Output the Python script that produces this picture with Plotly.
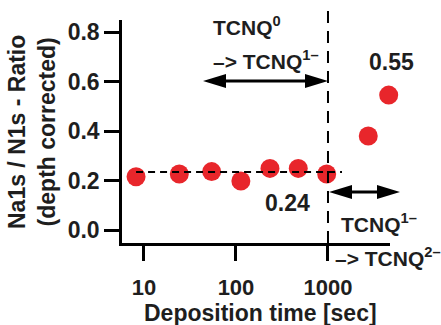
import plotly.graph_objects as go

# Data
dep_time = [8.2, 24.2, 54.4, 113, 234, 475, 968, 2740, 4570]
ratio = [0.215, 0.226, 0.236, 0.198, 0.249, 0.249, 0.226, 0.380, 0.545]
plateau_level = 0.234
plateau_x = [8.2, 1420]
transition_time = 1000
x_ticks = [10, 100, 1000]
y_ticks = [0.0, 0.2, 0.4, 0.6, 0.8]

FONT = "Liberation Sans, Arial, Helvetica, sans-serif"
INK = "#1e1e1e"
RED = "#e8262b"

fig = go.Figure()
fig.add_trace(go.Scatter(
    x=dep_time, y=ratio, mode="markers",
    marker=dict(size=19, color=RED, line=dict(width=0)),
    cliponaxis=False, showlegend=False,
))

W, H = 441, 325
L, R, T, B = 122, 51, 20, 82
pw, ph = W - L - R, H - T - B

def px(xp):
    return (xp - L) / pw

def py(yp):
    return (H - B - yp) / ph

shapes = []
# horizontal dashed plateau line
shapes.append(dict(type="line", xref="x", yref="y",
                   x0=plateau_x[0], x1=plateau_x[1], y0=plateau_level, y1=plateau_level,
                   line=dict(color="black", width=2, dash="7px,5px"), layer="above"))
# vertical dashed line at transition
shapes.append(dict(type="line", xref="x", yref="paper",
                   x0=transition_time, x1=transition_time, y0=0, y1=py(10),
                   line=dict(color="black", width=2, dash="12px,8px"), layer="above"))

def double_arrow(x0p, x1p, yp):
    shapes.append(dict(type="line", xref="paper", yref="paper",
                       x0=px(x0p + 10), x1=px(x1p - 10), y0=py(yp), y1=py(yp),
                       line=dict(color="black", width=3)))
    for xa, d in ((x0p, 1), (x1p, -1)):
        shapes.append(dict(type="path", xref="paper", yref="paper",
                           xsizemode="pixel", ysizemode="pixel",
                           xanchor=px(xa), yanchor=py(yp),
                           path=f"M0,0 L{d*23},7 L{d*23},-7 Z",
                           fillcolor="black", line=dict(width=0)))

double_arrow(203, 328, 81)
double_arrow(329, 400, 192)

def f(size):
    return dict(family=FONT, size=size, color=INK, weight="bold")

annotations = [
    dict(text="TCNQ<sup>0</sup>", x=px(211), y=py(26), xanchor="left", font=f(21)),
    dict(text="–> TCNQ<sup>1–</sup>", x=px(211), y=py(60), xanchor="left", font=f(21)),
    dict(text="0.55", x=px(391), y=py(62), xanchor="center", font=f(23)),
    dict(text="0.24", x=px(287), y=py(203), xanchor="center", font=f(23)),
    dict(text="TCNQ<sup>1–</sup>", x=px(339), y=py(223), xanchor="left", font=f(21)),
    dict(text="–> TCNQ<sup>2–</sup>", x=px(333), y=py(257), xanchor="left", font=f(21)),
    dict(text="Deposition time [sec]", x=px(260), y=py(313), xanchor="center", font=f(23)),
    dict(text="Na1s / N1s - Ratio<br>(depth corrected)", x=px(32), y=py(132), xanchor="center",
         textangle=-90, font=f(23)),
]
for a in annotations:
    a.update(xref="paper", yref="paper", showarrow=False, yanchor="middle")

fig.update_layout(
    width=W, height=H,
    margin=dict(l=L, r=R, t=T, b=B, pad=0),
    paper_bgcolor="white", plot_bgcolor="white",
    shapes=shapes, annotations=annotations,
    font=f(22),
)
fig.update_xaxes(type="log", range=[0.761, 3.674], tickvals=x_ticks, ticktext=[str(v) for v in x_ticks],
                 showline=True, linecolor="black", linewidth=2.5, ticks="outside", ticklen=15,
                 tickwidth=2.5, tickcolor="black", showgrid=False, zeroline=False,
                 ticklabelstandoff=8, tickfont=f(22))
fig.update_yaxes(range=[-0.0525, 0.8485], tickvals=y_ticks, ticktext=[f"{v:.1f}" for v in y_ticks],
                 showline=True, linecolor="black", linewidth=2.5, ticks="outside", ticklen=15,
                 tickwidth=2.5, tickcolor="black", showgrid=False, zeroline=False,
                 tickfont=f(23))

fig.write_html("out.html")
